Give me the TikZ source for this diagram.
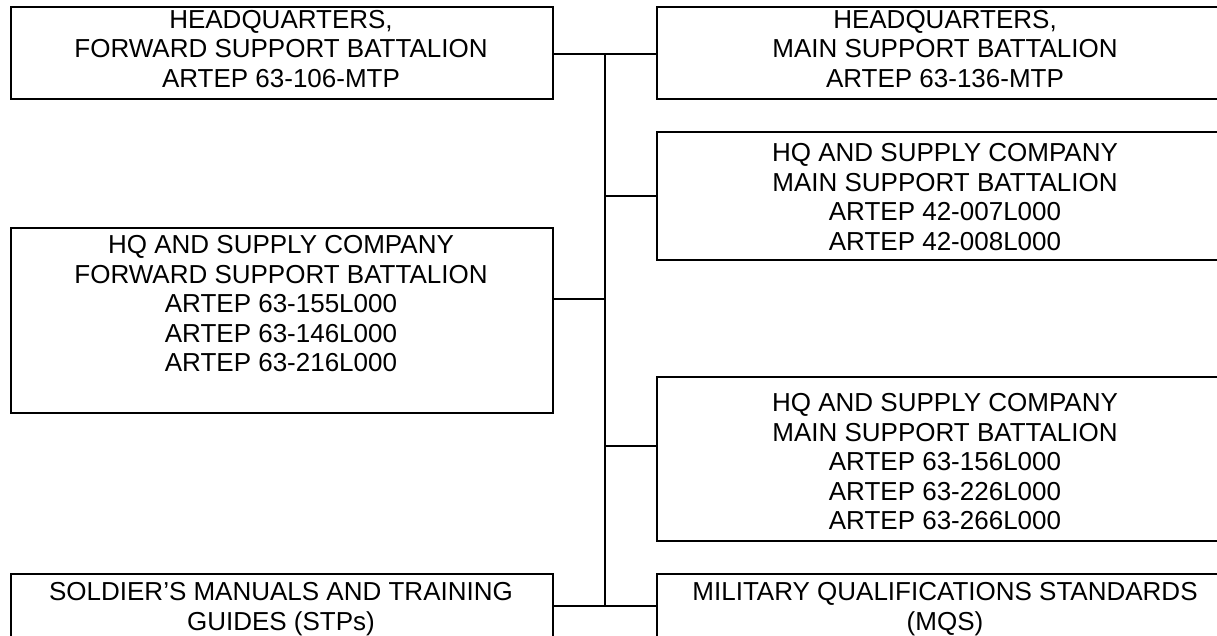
\documentclass[tikz,border=0pt]{standalone}
\usepackage{fontspec}
\setmainfont{Liberation Sans}
\usepackage{tikz}
\usetikzlibrary{positioning, calc}

\begin{document}
\begin{tikzpicture}[x=1pt, y=-1pt,
        box/.style={draw, rectangle, line width=1.6pt, inner sep=0pt},
        lbox/.style={box, minimum width=542pt},
        rbox/.style={box, minimum width=586pt},
        txt/.style={align=center, inner sep=0pt, font=\fontsize{26}{29.5}\selectfont},
        link/.style={line width=1.6pt}]
    \clip (0,0) rectangle (1217,635);

    % boxes
    \node [lbox, minimum height=92pt] (hqfsb) at (282,53) {};
    \node [rbox, minimum height=92pt] (hqmsb) at (950,53) {};
    \node [rbox, minimum height=128pt] (msbA) at (950,196) {};
    \node [lbox, minimum height=185pt] (fsbco) at (282,320.5) {};
    \node [rbox, minimum height=164pt] (msbB) at (950,459) {};
    \node [lbox, minimum height=106pt] (stp) at (282,627) {};
    \node [rbox, minimum height=106pt] (mqs) at (950,627) {};

    % texts
    \node [txt] (hqfsbtxt) at (281,49) {HEADQUARTERS,\\FORWARD SUPPORT BATTALION\\ARTEP 63-106-MTP};
    \node [txt] (hqmsbtxt) at (945,49) {HEADQUARTERS,\\MAIN SUPPORT BATTALION\\ARTEP 63-136-MTP};
    \node [txt] (msbAtxt) at (945,197) {HQ AND SUPPLY COMPANY\\MAIN SUPPORT BATTALION\\ARTEP 42-007L000\\ARTEP 42-008L000};
    \node [txt] (fsbcotxt) at (281,304) {HQ AND SUPPLY COMPANY\\FORWARD SUPPORT BATTALION\\ARTEP 63-155L000\\ARTEP 63-146L000\\ARTEP 63-216L000};
    \node [txt] (msbBtxt) at (945,462) {HQ AND SUPPLY COMPANY\\MAIN SUPPORT BATTALION\\ARTEP 63-156L000\\ARTEP 63-226L000\\ARTEP 63-266L000};
    \node [txt] (stptxt) at (281,609) {SOLDIER’S MANUALS AND TRAINING\\GUIDES (STPs)};
    \node [txt] (mqstxt) at (945,609) {MILITARY QUALIFICATIONS STANDARDS\\(MQS)};

    % connectors
    \coordinate (jtop) at (605,54);
    \coordinate (jbot) at (605,606);
    \coordinate (jfsb) at (605,299);
    \coordinate (jmsb) at (605,446);
    \draw [link] (hqfsb.east |- jtop) -- (hqmsb.west |- jtop);
    \draw [link] (jtop) -- (jbot);
    \draw [link] (jtop |- msbA.west) -- (msbA.west);
    \draw [link] (fsbco.east |- jfsb) -- (jfsb);
    \draw [link] (jmsb) -- (jmsb -| msbB.west);
    \draw [link] (stp.east |- jbot) -- (mqs.west |- jbot);
\end{tikzpicture}
\end{document}
